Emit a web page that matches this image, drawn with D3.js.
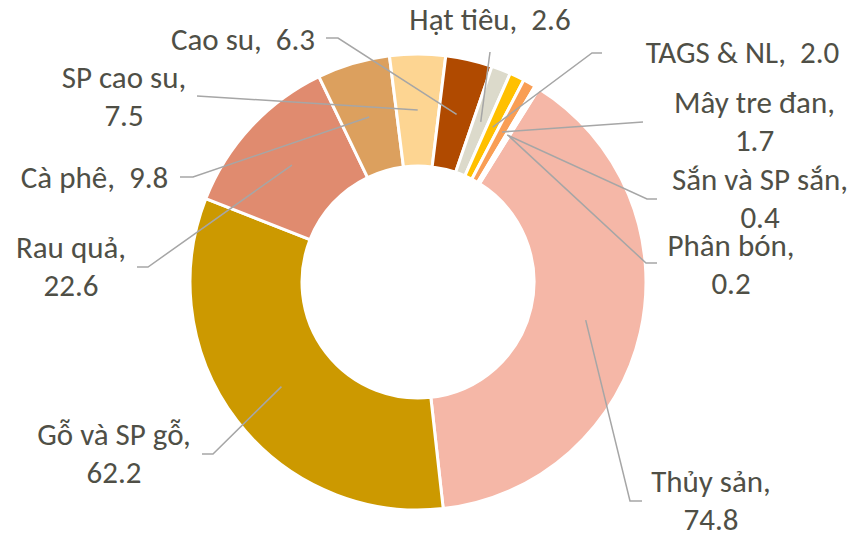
<!DOCTYPE html>
<html><head><meta charset="utf-8">
<script src="https://cdn.jsdelivr.net/npm/d3@7"></script>
<style>
html,body{margin:0;padding:0;background:#fff;}
text{white-space:pre;}
</style></head>
<body>
<svg id="chart" width="856" height="537"></svg>
<script>
// ---- data ----
const categories = ["Thủy sản","Gỗ và SP gỗ","Rau quả","Cà phê","SP cao su","Cao su","Hạt tiêu","TAGS & NL","Mây tre đan","Sắn và SP sắn","Phân bón"];
const values = [74.8, 62.2, 22.6, 9.8, 7.5, 6.3, 2.6, 2.0, 1.7, 0.4, 0.2];
const valueLabels = ["74.8","62.2","22.6","9.8","7.5","6.3","2.6","2.0","1.7","0.4","0.2"];
const colors = ["#F5B7A7","#CC9900","#E08B6F","#DCA05E","#FDD592","#B04A00","#DCDACB","#FFC000","#F99E54","#F6C9B4","#F7D7C0"];
// label layout: [centerX, firstBaseline, twoLines]
const labelLayout = [
  [711,492,true],[114,445,true],[71,258,true],[94.5,188,false],[124,88,true],
  [243,50,false],[490,30,false],[742.5,63,false],[754.5,113,true],[760,190,true],[731,256,true]
];
// leader line label-side points: [endX,endY,elbowX,elbowY]
const leaderStart = [
  [642,501,630,501],[202,454,213,454],[137,267,148,267],[180,177,193,177],[197,96,197,96],
  [326,38,338,38],[490,52,490,52],[602,53,592,53],[643,122,643,122],[657,199,647,199],[657,263,646,263]
];

const svg = d3.select("#chart");
const cx = 418, cy = 282, rOuter = 228, rInner = 116;
const g = svg.append("g").attr("transform",`translate(${cx},${cy})`);

const start = 32*Math.PI/180;
const pie = d3.pie().sort(null).value(d=>d).startAngle(start).endAngle(start+2*Math.PI);
const arcs = pie(values);
const arc = d3.arc().innerRadius(rInner).outerRadius(rOuter);

g.selectAll("path.slice").data(arcs).enter().append("path")
  .attr("class","slice")
  .attr("d",arc)
  .attr("fill",(d,i)=>colors[i])
  .attr("stroke","#fff").attr("stroke-width",3).attr("stroke-linejoin","round");

// leader lines
svg.append("g").selectAll("polyline").data(arcs).enter().append("polyline")
  .attr("points",(d,i)=>{
    const c = arc.centroid(d);
    const s = leaderStart[i];
    return [[s[0],s[1]],[s[2],s[3]],[c[0]+cx,c[1]+cy]].map(p=>p.join(",")).join(" ");
  })
  .attr("fill","none").attr("stroke","#A6A6A6").attr("stroke-width",1.5);

// labels
const font = "Calibri, Carlito, Lato, sans-serif";
const lab = svg.append("g").attr("font-family",font).attr("font-size",31).attr("fill","#4F4F46").attr("text-anchor","middle");
categories.forEach((c,i)=>{
  const [x,y,two] = labelLayout[i];
  const t = lab.append("text").attr("x",x).attr("y",y);
  if(two){
    t.append("tspan").attr("x",x).attr("y",y).text(c+",");
    t.append("tspan").attr("x",x).attr("y",y+38).text(valueLabels[i]);
  } else {
    t.text(c+",  "+valueLabels[i]);
  }
});
</script>
</body></html>
